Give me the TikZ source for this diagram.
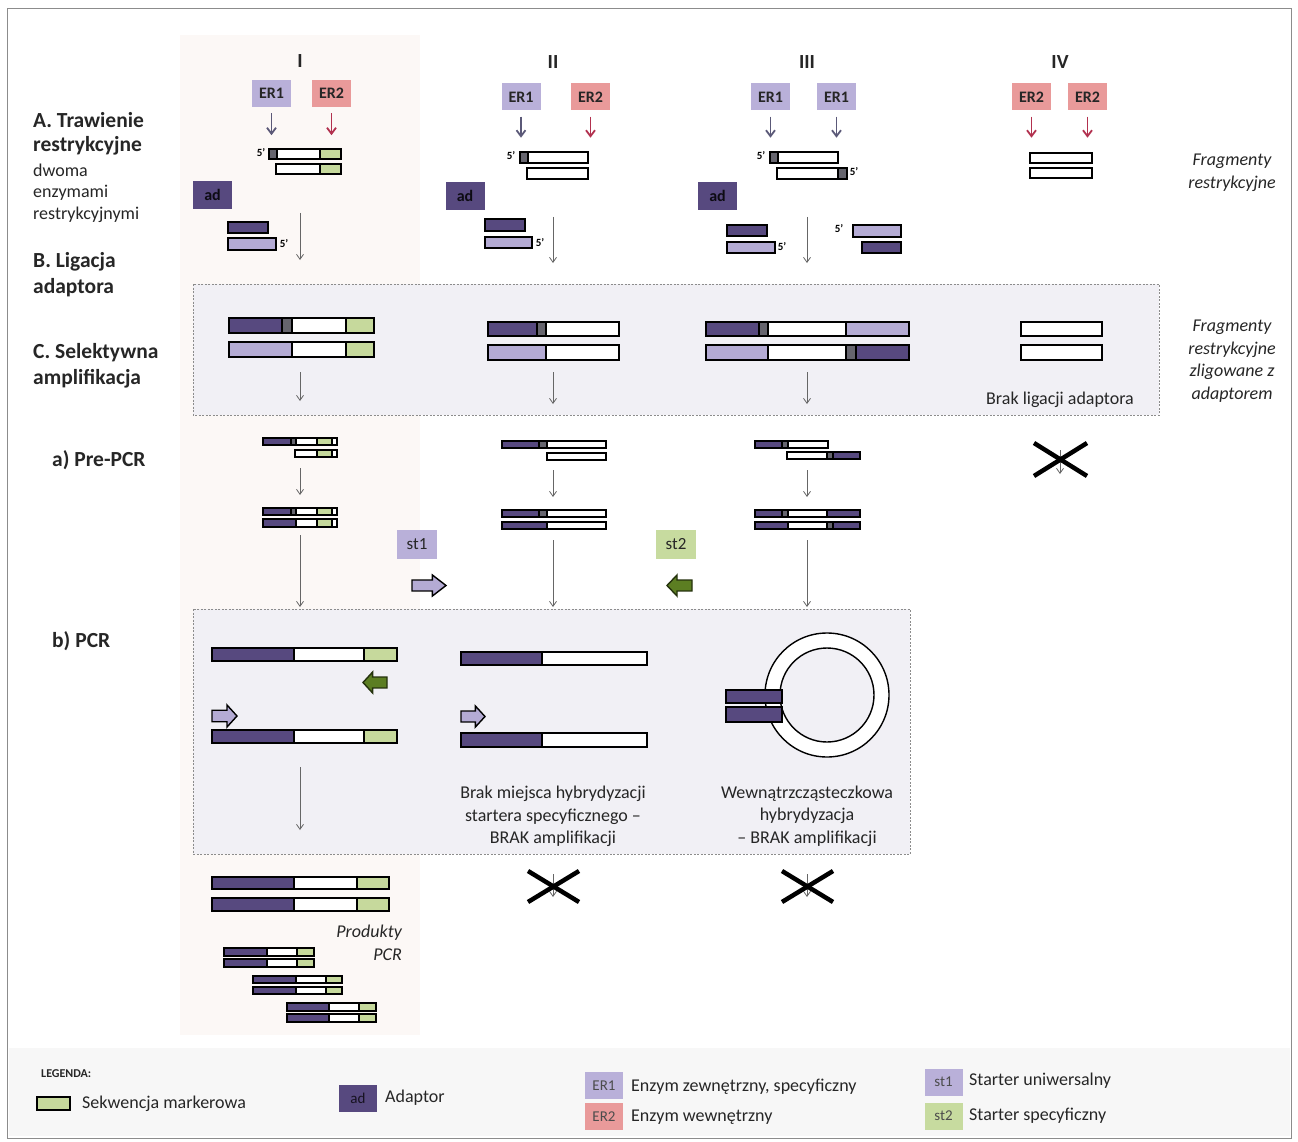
\documentclass[tikz,border=0pt]{standalone}
\usepackage{fontspec}
\setmainfont{Carlito}
\usetikzlibrary{arrows.meta}

\definecolor{adp}{HTML}{57497F}
\definecolor{adl}{HTML}{B4ABD4}
\definecolor{cut}{HTML}{66656E}
\definecolor{mrk}{HTML}{C6D99C}
\definecolor{olv}{HTML}{5C7E22}
\definecolor{erone}{HTML}{B9B0D9}
\definecolor{ertwo}{HTML}{E99A9A}
\definecolor{sttwo}{HTML}{C7DB9F}
\definecolor{panel}{HTML}{F1F0F5}
\definecolor{ink}{HTML}{262626}
\definecolor{ermark}{HTML}{5B5978}
\definecolor{erred}{HTML}{B2314F}
\definecolor{bandI}{HTML}{FCF8F6}
\definecolor{legbg}{HTML}{F7F7F7}

% one DNA strand: top y, bottom y, list of segments x0/x1/colour
\newcommand{\dnastrand}[3]{%
  \foreach \xa/\xb/\cc in {#3}{%
    \filldraw[fill=\cc, draw=black, line width=1.5pt] (\xa,#1) rectangle (\xb,#2);}}

% block arrows (primers): x0 y0 x1 y1 fill draw
\newcommand{\primerright}[6]{%
  \filldraw[fill=#5, draw=#6, line width=1.4pt, line join=miter]
    (#1,{#2+0.24*(#4-#2)}) -- ({#3-0.4*(#3-#1)},{#2+0.24*(#4-#2)})
    -- ({#3-0.4*(#3-#1)},#2) -- (#3,{0.5*(#2+#4)}) -- ({#3-0.4*(#3-#1)},#4)
    -- ({#3-0.4*(#3-#1)},{#4-0.24*(#4-#2)}) -- (#1,{#4-0.24*(#4-#2)}) -- cycle;}
\newcommand{\primerleft}[6]{%
  \filldraw[fill=#5, draw=#6, line width=1.4pt, line join=miter]
    (#3,{#2+0.24*(#4-#2)}) -- ({#1+0.4*(#3-#1)},{#2+0.24*(#4-#2)})
    -- ({#1+0.4*(#3-#1)},#2) -- (#1,{0.5*(#2+#4)}) -- ({#1+0.4*(#3-#1)},#4)
    -- ({#1+0.4*(#3-#1)},{#4-0.24*(#4-#2)}) -- (#3,{#4-0.24*(#4-#2)}) -- cycle;}

\tikzset{
  x=1pt, y=-1pt,
  tag/.style={minimum width=39pt, minimum height=27pt, inner sep=0pt, text=ink,
    font=\fontsize{16}{16}\selectfont\bfseries},
  adbox/.style={tag, fill=adp, text=black!85!adp, minimum height=28pt},
  stbox/.style={minimum width=40pt, minimum height=29pt, inner sep=0pt, text=ink,
    font=\fontsize{17}{17}\selectfont},
  legbox/.style={minimum width=38pt, minimum height=27pt, inner sep=0pt, text=black!70,
    font=\fontsize{15}{15}\selectfont},
  flow/.style={draw=black!60, line width=0.8pt, -{Straight Barb[length=5pt,width=7pt]}},
  cutarrow/.style={line width=1.8pt, -{Straight Barb[length=6pt,width=9pt]}},
  head/.style={font=\fontsize{21.5}{26}\selectfont\bfseries, text=ink, anchor=west, inner sep=0pt},
  sub/.style={font=\fontsize{18}{22}\selectfont, text=ink, anchor=west, inner sep=0pt},
  roman/.style={font=\fontsize{20}{20}\selectfont\bfseries, text=ink, inner sep=0pt},
  note/.style={font=\fontsize{18}{22.5}\selectfont\itshape, text=ink, align=center, inner sep=0pt},
  body/.style={font=\fontsize{18}{22.5}\selectfont, text=ink, align=center, inner sep=0pt},
  prime/.style={font=\fontsize{11}{11}\selectfont\bfseries, text=black, inner sep=0pt},
  legtext/.style={font=\fontsize{18}{18}\selectfont, text=ink, anchor=west, inner sep=0pt},
  panelbox/.style={fill=panel, draw=black!45, dash pattern=on 2pt off 1.5pt, line width=0.8pt},
  nogo/.style={line width=4.5pt, black},
}

\begin{document}
\begin{tikzpicture}
\useasboundingbox (0,0) rectangle (1298,1142);
\fill[white] (0,0) rectangle (1298,1142);
\fill[bandI] (180,35) rectangle (420,1035);
\fill[legbg] (9,1048) rectangle (1290,1136);
\draw[black!45, line width=1pt] (7.5,8.5) rectangle (1291.5,1138);

% ---------- row labels ----------
\node[head] (labA1) at (33,120) {A. Trawienie};
\node[head] (labA2) at (33,146) {restrykcyjne};
\node[sub]  (labA3) at (33,170) {dwoma};
\node[sub]  (labA4) at (33,193) {enzymami};
\node[sub]  (labA5) at (33,215) {restrykcyjnymi};
\node[head] (labB1) at (33,262) {B. Ligacja};
\node[head] (labB2) at (33,288) {adaptora};
\node[head] (labC1) at (33,353) {C. Selektywna};
\node[head] (labC2) at (33,379) {amplifikacja};
\node[head] (labPre) at (52,460) {a) Pre-PCR};
\node[head] (labPcr) at (52,641) {b) PCR};

% ---------- column headers ----------
\node[roman] (colI) at (300,61) {I};
\node[roman] (colII) at (553,62) {II};
\node[roman] (colIII) at (807,62) {III};
\node[roman] (colIV) at (1060,62) {IV};

% ---------- A: digestion ----------
% column I
\node[tag, fill=erone] (eIa) at (271.5,93.5) {ER1};
\node[tag, fill=ertwo] (eIb) at (331.5,93.5) {ER2};
\draw[cutarrow, ermark] ([yshift=-6pt]eIa.south) -- ++(0,22);
\draw[cutarrow, erred] ([yshift=-6pt]eIb.south) -- ++(0,22);
\node[prime] (pI1) at (261,153) {5'};
\dnastrand{149}{159}{269/277/cut, 277/320/white, 320/341/mrk}
\dnastrand{164}{174}{276/320/white, 320/341/mrk}
\node[adbox] (adI) at (212.5,195) {ad};
\dnastrand{222}{233}{228/268/adp}
\dnastrand{238}{250}{228/276/adl}
\node[prime] (pI2) at (284,244) {5'};
\coordinate (fIa) at (300,213); \coordinate (fIb) at (300,260);
\draw[flow] (fIa) -- (fIb);

% column II
\node[tag, fill=erone] (eIIa) at (521,97) {ER1};
\node[tag, fill=ertwo] (eIIb) at (590.5,97) {ER2};
\draw[cutarrow, ermark] ([yshift=-6pt]eIIa.south) -- ++(0,21);
\draw[cutarrow, erred] ([yshift=-6pt]eIIb.south) -- ++(0,21);
\node[prime] (pII1) at (511,156) {5'};
\dnastrand{152}{163}{520/528/cut, 528/588/white}
\dnastrand{168}{179}{527/588/white}
\node[adbox] (adII) at (465,196) {ad};
\dnastrand{219}{231}{485/525/adp}
\dnastrand{237}{248}{485/532/adl}
\node[prime] (pII2) at (540,243) {5'};
\coordinate (fIIa) at (553,217); \coordinate (fIIb) at (553,263);
\draw[flow] (fIIa) -- (fIIb);

% column III
\node[tag, fill=erone] (eIIIa) at (770.5,97) {ER1};
\node[tag, fill=erone] (eIIIb) at (836.5,97) {ER1};
\draw[cutarrow, ermark] ([yshift=-6pt]eIIIa.south) -- ++(0,21);
\draw[cutarrow, ermark] ([yshift=-6pt]eIIIb.south) -- ++(0,21);
\node[prime] (pIII1) at (761,156) {5'};
\dnastrand{152}{163}{770/778/cut, 778/838/white}
\dnastrand{168}{179}{777/838/white, 838/847/cut}
\node[prime] (pIII2) at (854,172) {5'};
\node[adbox] (adIII) at (717.5,196) {ad};
\dnastrand{225}{236}{727/767/adp}
\dnastrand{242}{253}{727/775/adl}
\node[prime] (pIII3) at (782,247) {5'};
\node[prime] (pIII4) at (839,229) {5'};
\dnastrand{225}{237}{853/901/adl}
\dnastrand{242}{253}{862/901/adp}
\coordinate (fIIIa) at (807,217); \coordinate (fIIIb) at (807,263);
\draw[flow] (fIIIa) -- (fIIIb);

% column IV
\node[tag, fill=ertwo] (eIVa) at (1031.5,97) {ER2};
\node[tag, fill=ertwo] (eIVb) at (1087.5,97) {ER2};
\draw[cutarrow, erred] ([yshift=-6pt]eIVa.south) -- ++(0,21);
\draw[cutarrow, erred] ([yshift=-6pt]eIVb.south) -- ++(0,21);
\dnastrand{153}{163}{1030/1092/white}
\dnastrand{168}{178}{1030/1092/white}

\node[note] (noteFrag) at (1232,173) {Fragmenty\\restrykcyjne};

% ---------- B/C: ligated fragments ----------
\filldraw[panelbox] (193,284) rectangle (1159,415);
\dnastrand{318}{333}{229/282/adp, 282/292/cut, 292/346/white, 346/374/mrk}
\dnastrand{342}{357}{229/292/adl, 292/346/white, 346/374/mrk}
\dnastrand{322}{336}{488/537/adp, 537/546/cut, 546/619/white}
\dnastrand{345}{360}{488/546/adl, 546/619/white}
\dnastrand{322}{336}{706/759/adp, 759/768/cut, 768/846/white, 846/909/adl}
\dnastrand{345}{360}{706/768/adl, 768/846/white, 846/856/cut, 856/909/adp}
\dnastrand{322}{336}{1021/1102/white}
\dnastrand{345}{360}{1021/1102/white}
\node[body] (noLig) at (1060,400) {Brak ligacji adaptora};
\coordinate (gIa) at (300,372); \coordinate (gIb) at (300,401);
\coordinate (gIIa) at (553,372); \coordinate (gIIb) at (553,404);
\coordinate (gIIIa) at (807,372); \coordinate (gIIIb) at (807,404);
\draw[flow] (gIa) -- (gIb);
\draw[flow] (gIIa) -- (gIIb);
\draw[flow] (gIIIa) -- (gIIIb);

\node[note] (noteLig) at (1232,361) {Fragmenty\\restrykcyjne\\zligowane z\\adaptorem};

% ---------- a) Pre-PCR ----------
\dnastrand{438}{445}{263/291/adp, 291/296/cut, 296/317/white, 317/332/mrk, 332/337/white}
\dnastrand{450}{457}{295/317/white, 317/332/mrk, 332/337/white}
\dnastrand{508}{515}{263/291/adp, 291/296/cut, 296/317/white, 317/332/mrk, 332/337/white}
\dnastrand{519}{527}{263/296/adp, 296/317/white, 317/332/mrk, 332/337/white}
\coordinate (hIa) at (300,468); \coordinate (hIb) at (300,495);
\draw[flow] (hIa) -- (hIb);

\dnastrand{441}{448}{502/539/adp, 539/547/cut, 547/606/white}
\dnastrand{453}{460}{547/606/white}
\dnastrand{510}{517}{502/539/adp, 539/547/cut, 547/606/white}
\dnastrand{522}{529}{502/547/adp, 547/606/white}
\coordinate (hIIa) at (553,470); \coordinate (hIIb) at (553,497);
\draw[flow] (hIIa) -- (hIIb);

\dnastrand{441}{448}{755/782/adp, 782/788/cut, 788/828/white}
\dnastrand{452}{459}{787/827/white, 827/833/cut, 833/860/adp}
\dnastrand{510}{517}{755/782/adp, 782/788/cut, 788/827/white, 827/860/adp}
\dnastrand{522}{529}{755/788/adp, 788/827/white, 827/833/cut, 833/860/adp}
\coordinate (hIIIa) at (807,470); \coordinate (hIIIb) at (807,497);
\draw[flow] (hIIIa) -- (hIIIb);

% column IV: nothing to amplify
\coordinate (hIVa) at (1060,450); \coordinate (hIVb) at (1060,474);
\draw[flow] (hIVa) -- (hIVb);
\draw[nogo] (1034,443) -- (1087,476);
\draw[nogo] (1034,476) -- (1087,443);

% primers
\node[stbox, fill=erone] (s1) at (417,544.5) {st1};
\node[stbox, fill=sttwo] (s2) at (676,544.5) {st2};
\primerright{412}{575}{446}{596}{adl}{black}
\primerleft{667}{575}{692}{596}{olv}{black!60!olv}

\coordinate (kIa) at (300,535); \coordinate (kIb) at (300,607);
\coordinate (kIIa) at (553,540); \coordinate (kIIb) at (553,607);
\coordinate (kIIIa) at (807,540); \coordinate (kIIIb) at (807,607);
\draw[flow] (kIa) -- (kIb);
\draw[flow] (kIIa) -- (kIIb);
\draw[flow] (kIIIa) -- (kIIIb);

% ---------- b) PCR ----------
\filldraw[panelbox] (193,609) rectangle (910,854);
% column I
\dnastrand{648}{661}{212/294/adp, 294/364/white, 364/397/mrk}
\primerleft{363}{672}{387}{693}{olv}{black!60!olv}
\primerright{212}{705}{237}{727}{adl}{black}
\dnastrand{730}{743}{212/294/adp, 294/364/white, 364/397/mrk}
\coordinate (mIa) at (300,767); \coordinate (mIb) at (300,830);
\draw[flow] (mIa) -- (mIb);
% column II
\dnastrand{652}{665}{461/542/adp, 542/647/white}
\primerright{461}{706}{485}{727}{adl}{black}
\dnastrand{733}{747}{461/542/adp, 542/647/white}
\node[body] (noSite) at (553,816.5) {Brak miejsca hybrydyzacji\\startera specyficznego –\\BRAK amplifikacji};
% column III: hairpin (ring of single strand closed by the adaptor pair)
\coordinate (ringc) at (827,695);
\filldraw[fill=white, draw=black, line width=1.4pt] (ringc) circle[radius=62];
\filldraw[fill=panel, draw=black, line width=1.4pt] (ringc) circle[radius=47];
\dnastrand{690}{703}{726/782/adp}
\dnastrand{707}{722}{726/782/adp}
\node[body] (noAmp) at (807,816) {Wewnątrzcząsteczkowa\\hybrydyzacja\\– BRAK amplifikacji};

% crosses below the PCR panel
\coordinate (nIIa) at (553,874); \coordinate (nIIb) at (553,897);
\draw[flow] (nIIa) -- (nIIb);
\draw[nogo] (528,871) -- (579,902);
\draw[nogo] (528,902) -- (579,871);
\coordinate (nIIIa) at (807,874); \coordinate (nIIIb) at (807,897);
\draw[flow] (nIIIa) -- (nIIIb);
\draw[nogo] (782,871) -- (833,902);
\draw[nogo] (782,902) -- (833,871);

% ---------- PCR products ----------
\dnastrand{877}{889}{212/294/adp, 294/357/white, 357/389/mrk}
\dnastrand{898}{911}{212/294/adp, 294/357/white, 357/389/mrk}
\dnastrand{948}{956}{224/267/adp, 267/297/white, 297/314/mrk}
\dnastrand{959}{967}{224/267/adp, 267/297/white, 297/314/mrk}
\dnastrand{976}{983}{253/296/adp, 296/326/white, 326/342/mrk}
\dnastrand{987}{994}{253/296/adp, 296/326/white, 326/342/mrk}
\dnastrand{1003}{1011}{287/329/adp, 329/359/white, 359/376/mrk}
\dnastrand{1014}{1022}{287/329/adp, 329/359/white, 359/376/mrk}
\node[note, anchor=east] (prod1) at (402,933) {Produkty};
\node[note, anchor=east] (prod2) at (402,955) {PCR};

% ---------- legend ----------
\node[font=\fontsize{12}{12}\selectfont\bfseries, text=ink, anchor=west, inner sep=0pt] (legTitle) at (41,1074) {LEGENDA:};
\filldraw[fill=mrk, draw=black, line width=1.5pt] (37,1097) rectangle (70,1110);
\node[legtext] (legMrk) at (82,1104) {Sekwencja markerowa};
\node[legbox, fill=adp, text=black!75!adp] (legAd) at (358,1098) {ad};
\node[legtext] (legAdT) at (385,1098) {Adaptor};
\node[legbox, fill=erone] (legE1) at (604,1085.5) {ER1};
\node[legtext] (legE1T) at (631,1087) {Enzym zewnętrzny, specyficzny};
\node[legbox, fill=ertwo] (legE2) at (604,1116.5) {ER2};
\node[legtext] (legE2T) at (631,1117) {Enzym wewnętrzny};
\node[legbox, fill=erone] (legS1) at (943.5,1082) {st1};
\node[legtext] (legS1T) at (969,1081) {Starter uniwersalny};
\node[legbox, fill=sttwo] (legS2) at (943.5,1116) {st2};
\node[legtext] (legS2T) at (969,1116) {Starter specyficzny};
\end{tikzpicture}
\end{document}
